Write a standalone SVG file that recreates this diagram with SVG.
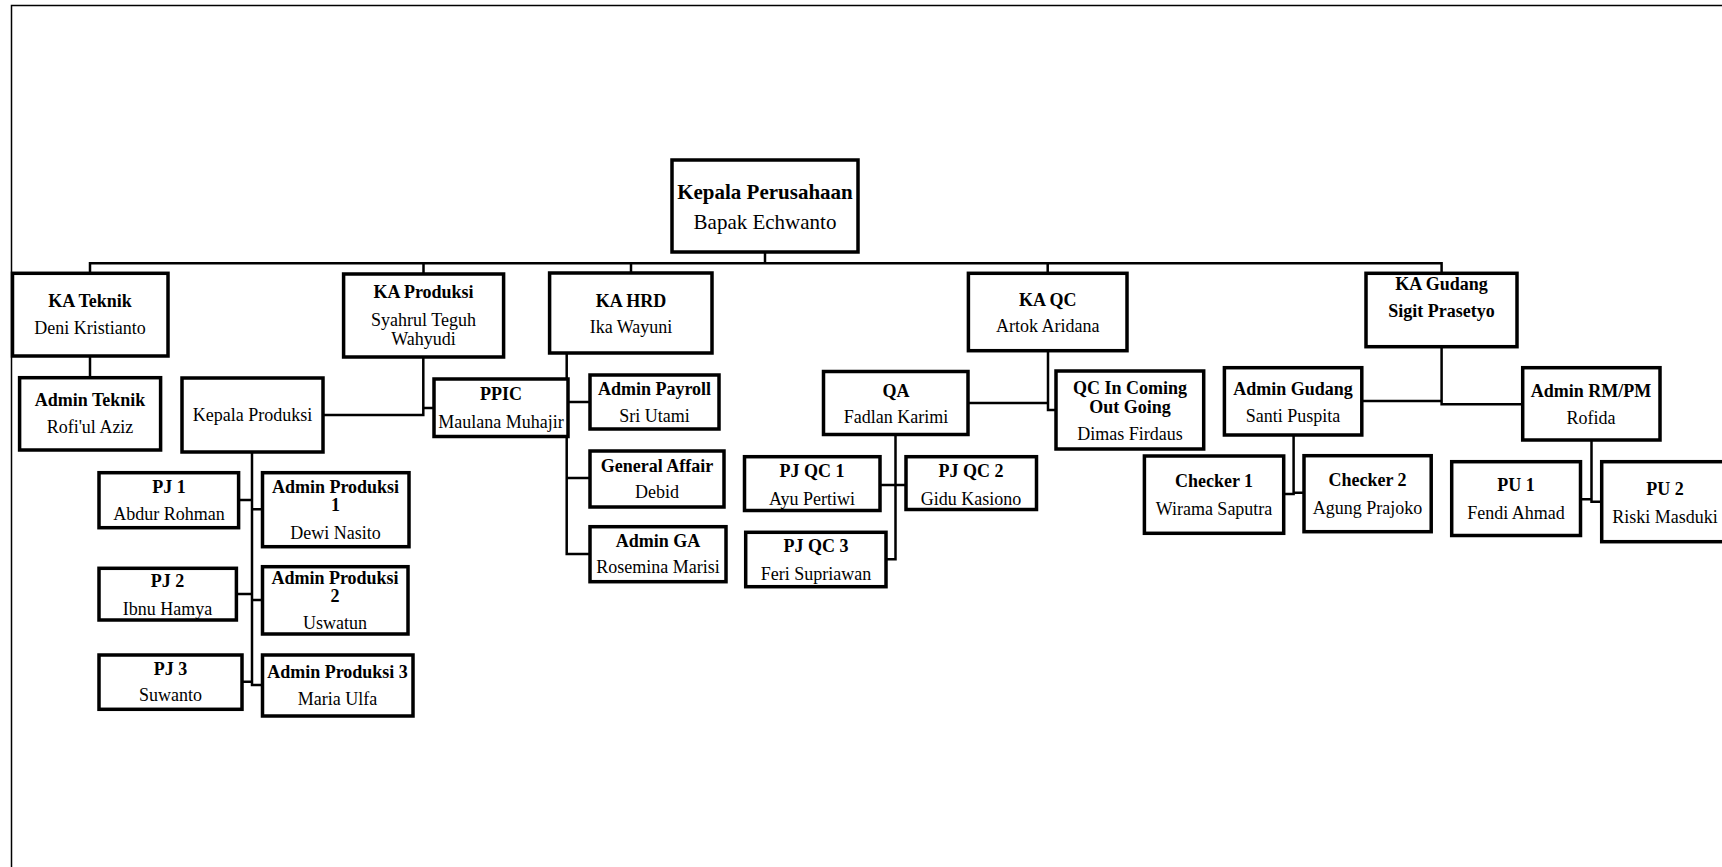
<svg xmlns="http://www.w3.org/2000/svg" width="1722" height="867" viewBox="0 0 1722 867">
<style>
.bx{fill:#fff;stroke:#000;stroke-width:3.5}
.c{fill:none;stroke:#000;stroke-width:2.5}
.fr{fill:none;stroke:#000;stroke-width:1.5}
text{font-family:"Liberation Serif","Times New Roman",serif;font-size:18px;text-anchor:middle;fill:#000}
.b{font-weight:bold}
.big{font-size:21px}
</style>
<rect width="1722" height="867" fill="#fff"/>
<path class="fr" d="M11.5 867 V5.5 H1722"/>
<g id="connectors">
<path class="c" d="M765 252 V263.3 M90 273.3 V263.3 H1441.6 V273.3 M423.5 263.3 V274 M631 263.3 V273 M1047.7 263.3 V273.3"/>
<path class="c" d="M90 356 V377.7"/>
<path class="c" d="M423.3 357 V415 H323 M423.3 408 H434"/>
<path class="c" d="M566.7 353 V554 H590 M566.7 402 H590 M566.7 478 H590"/>
<path class="c" d="M252 452 V685 H262.5 M238.6 500 H252 M252 509.3 H262.5 M236.4 594 H252 M252 600 H262.5 M242 681.7 H252"/>
<path class="c" d="M968 403 H1048 M1048 350.7 V410 H1056"/>
<path class="c" d="M895.5 434.5 V559.3 H886 M880 485 H906"/>
<path class="c" d="M1361.8 401 H1441.6 M1441.6 346.7 V404.3 H1522.7"/>
<path class="c" d="M1293.6 435 V494 H1283.7 M1293.6 492.7 H1304"/>
<path class="c" d="M1591.5 440 V501.7 H1601.7 M1580.5 499.3 H1591.5"/>
</g>
<g id="kepala-perusahaan"><rect class="bx" x="672" y="160" width="186" height="92"/><text class="b big" x="765" y="199">Kepala Perusahaan</text><text class="big" x="765" y="229">Bapak Echwanto</text></g>
<g id="ka-teknik"><rect class="bx" x="12.5" y="273.3" width="155.5" height="82.7"/><text class="b" x="90" y="307">KA Teknik</text><text x="90" y="334">Deni Kristianto</text></g>
<g id="admin-teknik"><rect class="bx" x="19.6" y="377.7" width="141" height="72.3"/><text class="b" x="90" y="406">Admin Teknik</text><text x="90" y="433">Rofi'ul Aziz</text></g>
<g id="kepala-produksi"><rect class="bx" x="182" y="378" width="141" height="74"/><text x="252.5" y="421">Kepala Produksi</text></g>
<g id="ka-produksi"><rect class="bx" x="343.6" y="274" width="160" height="83"/><text class="b" x="423.5" y="298">KA Produksi</text><text x="423.5" y="326">Syahrul Teguh</text><text x="423.5" y="345">Wahyudi</text></g>
<g id="ppic"><rect class="bx" x="434" y="379" width="134" height="57.5"/><text class="b" x="501" y="400">PPIC</text><text x="501" y="428">Maulana Muhajir</text></g>
<g id="ka-hrd"><rect class="bx" x="549.6" y="273" width="162.4" height="80"/><text class="b" x="631" y="307">KA HRD</text><text x="631" y="333">Ika Wayuni</text></g>
<g id="admin-payroll"><rect class="bx" x="590" y="375" width="129" height="54"/><text class="b" x="654.5" y="395">Admin Payroll</text><text x="654.5" y="422">Sri Utami</text></g>
<g id="general-affair"><rect class="bx" x="590" y="451" width="134" height="56"/><text class="b" x="657" y="472">General Affair</text><text x="657" y="498">Debid</text></g>
<g id="admin-ga"><rect class="bx" x="590" y="526.7" width="136" height="55"/><text class="b" x="658" y="547">Admin GA</text><text x="658" y="573">Rosemina Marisi</text></g>
<g id="ka-qc"><rect class="bx" x="968.4" y="273.3" width="158.6" height="77.4"/><text class="b" x="1047.7" y="305.5">KA QC</text><text x="1047.7" y="332">Artok Aridana</text></g>
<g id="qa"><rect class="bx" x="823.5" y="371.5" width="144.5" height="63"/><text class="b" x="896" y="397">QA</text><text x="896" y="423">Fadlan Karimi</text></g>
<g id="qc-in-coming"><rect class="bx" x="1056" y="371" width="147.7" height="78"/><text class="b" x="1130" y="394">QC In Coming</text><text class="b" x="1130" y="413">Out Going</text><text x="1130" y="439.5">Dimas Firdaus</text></g>
<g id="pj-qc-1"><rect class="bx" x="744.5" y="456.7" width="135.5" height="53.8"/><text class="b" x="812" y="477">PJ QC 1</text><text x="812" y="504.5">Ayu Pertiwi</text></g>
<g id="pj-qc-2"><rect class="bx" x="906" y="456.7" width="130.5" height="52.8"/><text class="b" x="971" y="477">PJ QC 2</text><text x="971" y="504.5">Gidu Kasiono</text></g>
<g id="pj-qc-3"><rect class="bx" x="745.7" y="532.3" width="140.3" height="54.4"/><text class="b" x="816" y="552">PJ QC 3</text><text x="816" y="579.5">Feri Supriawan</text></g>
<g id="ka-gudang"><rect class="bx" x="1366" y="273.3" width="151" height="73.4"/><text class="b" x="1441.5" y="289.5">KA Gudang</text><text class="b" x="1441.5" y="317">Sigit Prasetyo</text></g>
<g id="admin-gudang"><rect class="bx" x="1224.4" y="367.7" width="137.4" height="67.3"/><text class="b" x="1293" y="394.5">Admin Gudang</text><text x="1293" y="422">Santi Puspita</text></g>
<g id="admin-rmpm"><rect class="bx" x="1522.7" y="367.7" width="137.3" height="72.3"/><text class="b" x="1591" y="397">Admin RM/PM</text><text x="1591" y="424">Rofida</text></g>
<g id="checker-1"><rect class="bx" x="1144.4" y="456" width="139.3" height="77.3"/><text class="b" x="1214" y="487">Checker 1</text><text x="1214" y="514.5">Wirama Saputra</text></g>
<g id="checker-2"><rect class="bx" x="1304" y="455.7" width="127.2" height="76"/><text class="b" x="1367.5" y="486">Checker 2</text><text x="1367.5" y="513.5">Agung Prajoko</text></g>
<g id="pu-1"><rect class="bx" x="1451.7" y="461.7" width="128.8" height="73.8"/><text class="b" x="1516" y="491">PU 1</text><text x="1516" y="519">Fendi Ahmad</text></g>
<g id="pu-2"><rect class="bx" x="1601.7" y="461.7" width="130" height="80"/><text class="b" x="1665" y="495">PU 2</text><text x="1665" y="523">Riski Masduki</text></g>
<g id="pj-1"><rect class="bx" x="99" y="472.7" width="139.6" height="55"/><text class="b" x="169" y="493">PJ 1</text><text x="169" y="520">Abdur Rohman</text></g>
<g id="admin-produksi-1"><rect class="bx" x="262.5" y="472.7" width="146.5" height="74"/><text class="b" x="335.5" y="493">Admin Produksi</text><text class="b" x="335.5" y="511">1</text><text x="335.5" y="538.5">Dewi Nasito</text></g>
<g id="pj-2"><rect class="bx" x="99" y="568.3" width="137.4" height="51.7"/><text class="b" x="167.5" y="587">PJ 2</text><text x="167.5" y="614.5">Ibnu Hamya</text></g>
<g id="admin-produksi-2"><rect class="bx" x="262.5" y="566.7" width="145.5" height="67.3"/><text class="b" x="335" y="583.5">Admin Produksi</text><text class="b" x="335" y="602">2</text><text x="335" y="629">Uswatun</text></g>
<g id="pj-3"><rect class="bx" x="99" y="655" width="143" height="54.3"/><text class="b" x="170.5" y="675">PJ 3</text><text x="170.5" y="701">Suwanto</text></g>
<g id="admin-produksi-3"><rect class="bx" x="262.5" y="655" width="150.5" height="61"/><text class="b" x="337.5" y="678">Admin Produksi 3</text><text x="337.5" y="704.5">Maria Ulfa</text></g>
</svg>
